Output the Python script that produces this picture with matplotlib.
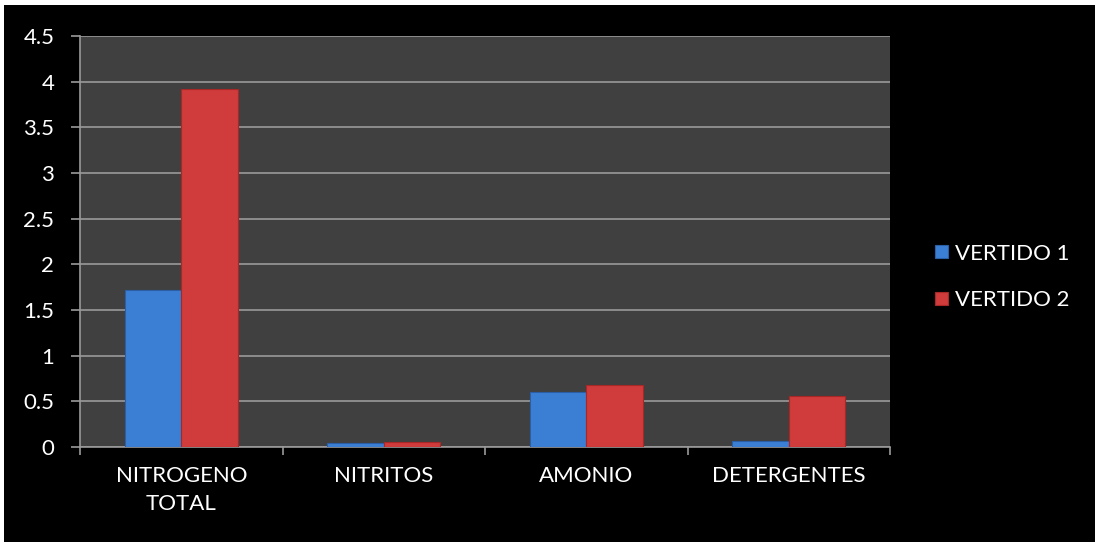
import matplotlib.pyplot as plt
import matplotlib.patches as mpatches
import numpy as np

categories = ['NITROGENO\nTOTAL', 'NITRITOS', 'AMONIO', 'DETERGENTES']
vertido1 = [1.72, 0.04, 0.60, 0.065]
vertido2 = [3.92, 0.05, 0.68, 0.56]
series_names = ['VERTIDO 1', 'VERTIDO 2']

plt.rcParams['font.family'] = ['Lato', 'DejaVu Sans']

fig = plt.figure(figsize=(10.95, 5.42), dpi=100, facecolor='white')
# black panel with thin white border on top/left
fig.patches.append(mpatches.Rectangle((4 / 1095, 0), 1, 1 - 5 / 542,
                                      transform=fig.transFigure,
                                      facecolor='black', edgecolor='none', zorder=-10))

ax = fig.add_axes([80 / 1095, 1 - 447 / 542, 810 / 1095, 411 / 542])
ax.set_facecolor('#404040')

x = np.arange(len(categories))
width = 0.28
ax.bar(x - width / 2, vertido1, width, color='#3b7fd4', edgecolor='#2a5fa8',
       linewidth=0.8, label=series_names[0], zorder=3)
ax.bar(x + width / 2, vertido2, width, color='#d03b3b', edgecolor='#a82828',
       linewidth=0.8, label=series_names[1], zorder=3)

ax.set_xlim(-0.5, len(categories) - 0.5)
ax.set_ylim(0, 4.5)
ax.set_yticks(np.arange(0, 4.6, 0.5))
ax.set_yticklabels(['0', '0.5', '1', '1.5', '2', '2.5', '3', '3.5', '4', '4.5'])
ax.yaxis.grid(True, color='#9a9a9a', linewidth=1.2, zorder=1)

ax.set_xticks(x)
ax.set_xticklabels(categories, linespacing=1.5)
ax.set_xticks(np.arange(-0.5, len(categories), 1), minor=True)
ax.tick_params(axis='x', which='major', length=0, pad=14, labelsize=16, colors='white')
ax.tick_params(axis='x', which='minor', length=6, color='#9a9a9a', width=1.2)
ax.tick_params(axis='y', length=6.5, color='#9a9a9a', width=1.2, labelsize=16,
               labelcolor='white', pad=12)

for side in ['top', 'right']:
    ax.spines[side].set_visible(False)
for side in ['left', 'bottom']:
    ax.spines[side].set_color('#9a9a9a')
    ax.spines[side].set_linewidth(1.2)

leg = fig.legend(loc='center left', bbox_to_anchor=(935 / 1095, 1 - 277 / 542),
                 frameon=False, fontsize=16, labelcolor='white',
                 borderpad=0, borderaxespad=0,
                 handlelength=0.6, handleheight=0.5, handletextpad=0.3,
                 labelspacing=1.2)

fig.savefig('out.png', dpi=100, facecolor=fig.get_facecolor())
